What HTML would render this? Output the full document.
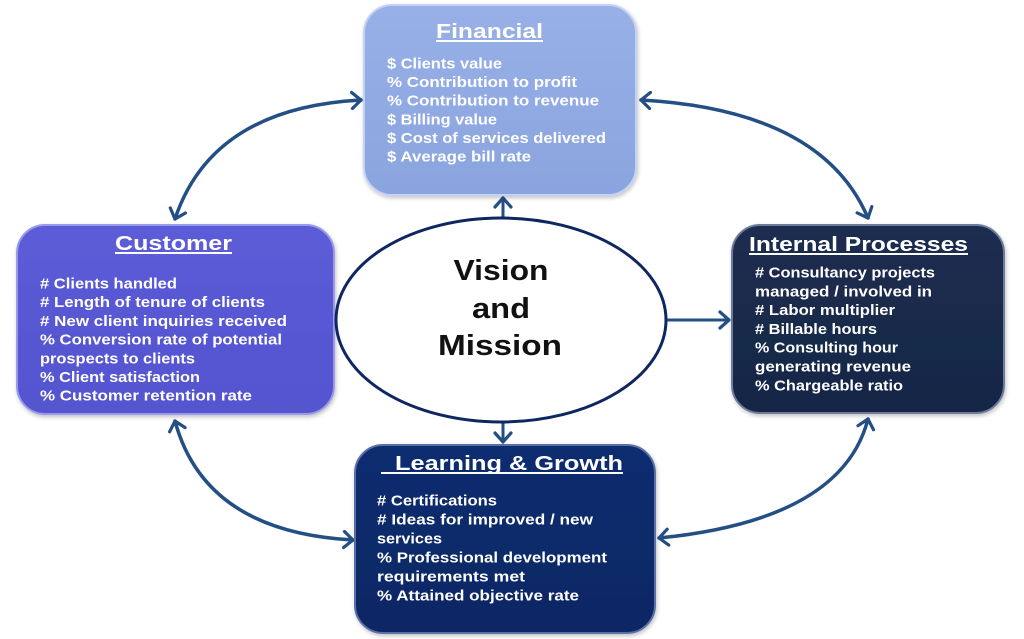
<!DOCTYPE html>
<html>
<head>
<meta charset="utf-8">
<style>
  html, body { margin:0; padding:0; background:#ffffff; }
  body { width:1024px; height:639px; overflow:hidden; }
  svg { display:block; }
  .t { font-family:"Liberation Sans", Arial, sans-serif; font-weight:bold; fill:#ffffff; }
  .b { font-size:15px; }
  .h { font-size:20px; }
  .v { font-family:"Liberation Sans", Arial, sans-serif; font-weight:bold; fill:#111111; font-size:29px; }
</style>
</head>
<body>
<svg width="1024" height="639" viewBox="0 0 1024 639" xmlns="http://www.w3.org/2000/svg">
  <defs>
    <linearGradient id="gFin" x1="0" y1="0" x2="0" y2="1">
      <stop offset="0" stop-color="#98b0e7"/>
      <stop offset="1" stop-color="#8aa4df"/>
    </linearGradient>
    <linearGradient id="gCus" x1="0" y1="0" x2="0" y2="1">
      <stop offset="0" stop-color="#5c5cd8"/>
      <stop offset="1" stop-color="#5454d0"/>
    </linearGradient>
    <linearGradient id="gInt" x1="0" y1="0" x2="0" y2="1">
      <stop offset="0" stop-color="#1c2d50"/>
      <stop offset="1" stop-color="#172746"/>
    </linearGradient>
    <linearGradient id="gLea" x1="0" y1="0" x2="0" y2="1">
      <stop offset="0" stop-color="#112d70"/>
      <stop offset="1" stop-color="#0d2764"/>
    </linearGradient>
    <filter id="sh" x="-10%" y="-10%" width="120%" height="125%">
      <feGaussianBlur in="SourceAlpha" stdDeviation="2"/>
      <feOffset dx="1" dy="2"/>
      <feComponentTransfer><feFuncA type="linear" slope="0.25"/></feComponentTransfer>
      <feMerge><feMergeNode/><feMergeNode in="SourceGraphic"/></feMerge>
    </filter>
    <marker id="ah" viewBox="-12 -10 14 20" markerWidth="14" markerHeight="20" refX="0" refY="0" orient="auto-start-reverse" markerUnits="userSpaceOnUse">
      <path d="M-9,-8 L0,0 L-9,8" fill="none" stroke="#244f85" stroke-width="3.2" stroke-linecap="round" stroke-linejoin="round"/>
    </marker>
  </defs>

  <!-- Curved connectors -->
  <g fill="none" stroke="#244f85" stroke-width="3.5" stroke-linecap="round">
    <path d="M175,219 Q212,108 361,100" marker-start="url(#ah)" marker-end="url(#ah)"/>
    <path d="M641,100 Q822,110 868,218" marker-start="url(#ah)" marker-end="url(#ah)"/>
    <path d="M175,421 Q205,532 353,540" marker-start="url(#ah)" marker-end="url(#ah)"/>
    <path d="M659,538 Q842,520 868,419" marker-start="url(#ah)" marker-end="url(#ah)"/>
  </g>

  <!-- Straight connectors -->
  <g fill="none" stroke="#244f85" stroke-width="3" stroke-linecap="round">
    <path d="M503,217 L503,198" marker-end="url(#ah)"/>
    <path d="M503,422 L503,442" marker-end="url(#ah)"/>
    <path d="M357,320 L339,320" marker-end="url(#ah)"/>
    <path d="M668,320 L729,320" marker-end="url(#ah)"/>
  </g>

  <!-- Boxes -->
  <g filter="url(#sh)">
    <rect x="364" y="5" width="272" height="190" rx="28" ry="28" fill="url(#gFin)" stroke="#c3d2f2" stroke-width="2"/>
    <rect x="17" y="225" width="317" height="189" rx="28" ry="28" fill="url(#gCus)" stroke="#9a9aea" stroke-width="2"/>
    <rect x="732" y="225" width="272" height="188" rx="28" ry="28" fill="url(#gInt)" stroke="#6d7c99" stroke-width="2"/>
    <rect x="355" y="445" width="300" height="188" rx="28" ry="28" fill="url(#gLea)" stroke="#5a6fa6" stroke-width="2"/>
  </g>

  <!-- Ellipse -->
  <ellipse cx="501" cy="320" rx="165" ry="102" fill="#ffffff" stroke="#0f2660" stroke-width="3"/>
  <text class="v" x="501" y="280" text-anchor="middle" textLength="95" lengthAdjust="spacingAndGlyphs">Vision</text>
  <text class="v" x="501" y="318" text-anchor="middle" textLength="58" lengthAdjust="spacingAndGlyphs">and</text>
  <text class="v" x="500" y="355" text-anchor="middle" textLength="124" lengthAdjust="spacingAndGlyphs">Mission</text>

  <!-- Financial -->
  <text class="t h" x="436" y="38" textLength="107" lengthAdjust="spacingAndGlyphs">Financial</text>
  <rect x="436" y="40" width="107" height="2" fill="#ffffff"/>
  <text class="t b" x="387" y="68.5" textLength="115" lengthAdjust="spacingAndGlyphs">$ Clients value</text>
  <text class="t b" x="387" y="87" textLength="190" lengthAdjust="spacingAndGlyphs">% Contribution  to profit</text>
  <text class="t b" x="387" y="105.5" textLength="212" lengthAdjust="spacingAndGlyphs">% Contribution  to revenue</text>
  <text class="t b" x="387" y="124.5" textLength="110" lengthAdjust="spacingAndGlyphs">$ Billing value</text>
  <text class="t b" x="387" y="143" textLength="219" lengthAdjust="spacingAndGlyphs">$ Cost of services delivered</text>
  <text class="t b" x="387" y="161.5" textLength="144" lengthAdjust="spacingAndGlyphs">$ Average bill rate</text>

  <!-- Customer -->
  <text class="t h" x="115" y="250" textLength="117" lengthAdjust="spacingAndGlyphs">Customer</text>
  <rect x="115" y="252" width="117" height="2" fill="#ffffff"/>
  <text class="t b" x="40" y="288.5" textLength="137" lengthAdjust="spacingAndGlyphs"># Clients handled</text>
  <text class="t b" x="40" y="307.2" textLength="225" lengthAdjust="spacingAndGlyphs"># Length of tenure of clients</text>
  <text class="t b" x="40" y="325.9" textLength="247" lengthAdjust="spacingAndGlyphs"># New client inquiries  received</text>
  <text class="t b" x="40" y="344.6" textLength="242" lengthAdjust="spacingAndGlyphs">% Conversion rate of potential</text>
  <text class="t b" x="40" y="363.3" textLength="155" lengthAdjust="spacingAndGlyphs">prospects to clients</text>
  <text class="t b" x="40" y="382" textLength="160" lengthAdjust="spacingAndGlyphs">% Client satisfaction</text>
  <text class="t b" x="40" y="400.7" textLength="212" lengthAdjust="spacingAndGlyphs">% Customer retention rate</text>

  <!-- Internal Processes -->
  <text class="t h" x="749" y="251" textLength="219" lengthAdjust="spacingAndGlyphs">Internal Processes</text>
  <rect x="749" y="253" width="219" height="2" fill="#ffffff"/>
  <text class="t b" x="755" y="277.5" textLength="180" lengthAdjust="spacingAndGlyphs"># Consultancy projects</text>
  <text class="t b" x="755" y="296.3" textLength="177" lengthAdjust="spacingAndGlyphs">managed / involved in</text>
  <text class="t b" x="755" y="315.1" textLength="140" lengthAdjust="spacingAndGlyphs"># Labor multiplier</text>
  <text class="t b" x="755" y="333.9" textLength="122" lengthAdjust="spacingAndGlyphs"># Billable hours</text>
  <text class="t b" x="755" y="352.7" textLength="143" lengthAdjust="spacingAndGlyphs">% Consulting hour</text>
  <text class="t b" x="755" y="371.5" textLength="156" lengthAdjust="spacingAndGlyphs">generating revenue</text>
  <text class="t b" x="755" y="390.3" textLength="148" lengthAdjust="spacingAndGlyphs">% Chargeable ratio</text>

  <!-- Learning & Growth -->
  <text class="t h" x="395" y="470" textLength="228" lengthAdjust="spacingAndGlyphs">Learning &amp; Growth</text>
  <rect x="381" y="472" width="242" height="2" fill="#ffffff"/>
  <text class="t b" x="377" y="505.5" textLength="120" lengthAdjust="spacingAndGlyphs"># Certifications</text>
  <text class="t b" x="377" y="524.5" textLength="216" lengthAdjust="spacingAndGlyphs"># Ideas for improved / new</text>
  <text class="t b" x="377" y="543.5" textLength="65" lengthAdjust="spacingAndGlyphs">services</text>
  <text class="t b" x="377" y="562.5" textLength="230" lengthAdjust="spacingAndGlyphs">% Professional development</text>
  <text class="t b" x="377" y="581.5" textLength="148" lengthAdjust="spacingAndGlyphs">requirements met</text>
  <text class="t b" x="377" y="600.5" textLength="202" lengthAdjust="spacingAndGlyphs">% Attained  objective rate</text>
</svg>
</body>
</html>
